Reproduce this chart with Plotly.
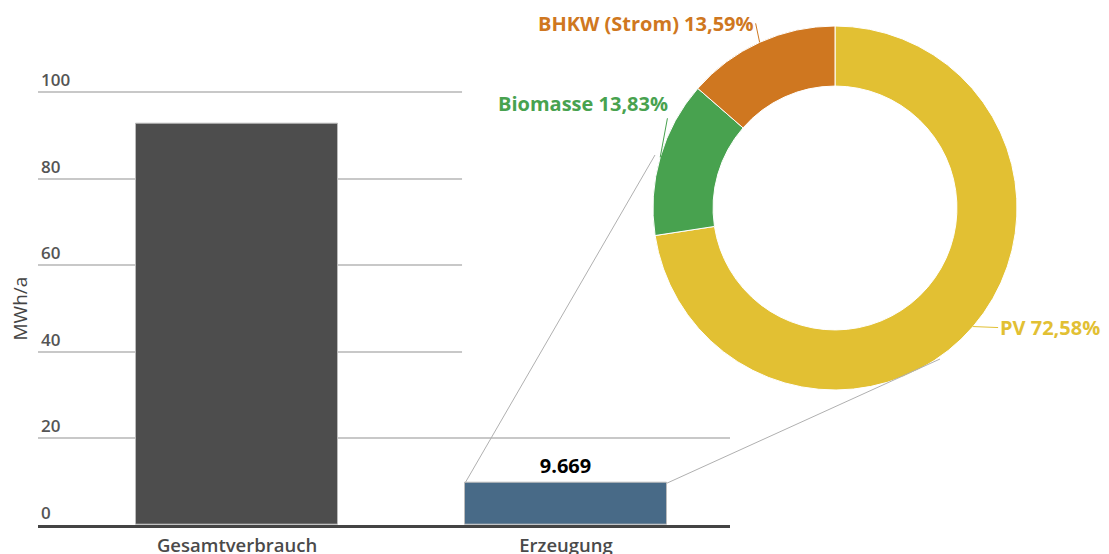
"""Gesamtverbrauch vs. Erzeugung with a donut breakdown of the generation."""

import math

import plotly.graph_objects as go

# bar chart data (MWh/a)
bar_categories = ["Gesamtverbrauch", "Erzeugung"]
bar_values = [92.6, 9.669]
bar_colors = ["#4d4d4d", "#486a87"]

# generation breakdown (MWh/a)
gen_labels = ["PV", "Biomasse", "BHKW (Strom)"]
gen_values = [7.018, 1.337, 1.314]
gen_colors = ["#e2c033", "#48a24f", "#cf7720"]

y_ticks = [0, 20, 40, 60, 80, 100]
y_title = "MWh/a"

FONT = "Open Sans"
# the page body has an 8px margin, so the figure is 8px smaller than the window
W, H = 1101, 546
M_L, M_R, M_T, M_B = 30, 0, 0, 29
plot_w = W - M_L - M_R
plot_h = H - M_T - M_B
plot_bottom = H - M_B

# bar subplot geometry (figure pixels)
y_zero_px, y_100_px = 517, 84
px_per_unit = (y_zero_px - y_100_px) / 100
y_top = 110
x_range = [-0.605, 1.4985]
x_dom = [0, (722 - M_L) / plot_w]
y_dom = [0, (plot_bottom - (y_zero_px - y_top * px_per_unit)) / plot_h]
bar_width = 0.614

# donut geometry (figure pixels)
pie_cx, pie_cy, pie_r = 827, 200, 182


def px_to_paper(px, py):
    return (px - M_L) / plot_w, (plot_bottom - py) / plot_h


def x_to_paper(x):
    return x_dom[0] + (x - x_range[0]) / (x_range[1] - x_range[0]) * (x_dom[1] - x_dom[0])


def y_to_paper(y):
    return y_dom[0] + y / y_top * (y_dom[1] - y_dom[0])


pie_x0, pie_y0 = px_to_paper(pie_cx - pie_r, pie_cy + pie_r)
pie_x1, pie_y1 = px_to_paper(pie_cx + pie_r, pie_cy - pie_r)

fig = go.Figure()

fig.add_trace(
    go.Bar(
        x=bar_categories,
        y=bar_values,
        width=bar_width,
        marker=dict(color=bar_colors, line=dict(color="#bbbbbb", width=1)),
        text=[None, f"{bar_values[1]:.3f}"],
        textposition="outside",
        textfont=dict(family=FONT, size=20, color="#000000", weight="bold"),
        cliponaxis=False,
        showlegend=False,
    )
)

fig.add_trace(
    go.Pie(
        labels=gen_labels,
        values=gen_values,
        hole=0.67,
        sort=False,
        direction="clockwise",
        rotation=0,
        domain=dict(x=[pie_x0, pie_x1], y=[pie_y0, pie_y1]),
        marker=dict(colors=gen_colors, line=dict(color="#ffffff", width=1)),
        textinfo="none",
        showlegend=False,
    )
)

# slice labels with short connectors to the slice middles
total = sum(gen_values)
label_offsets = [(25, 1, "left"), (10, -54, "right"), (-4, -19, "right")]
start = 0.0
for label, value, color, (ax, ay, anchor) in zip(gen_labels, gen_values, gen_colors, label_offsets):
    share = value / total
    mid = (start + share / 2) * 2 * math.pi
    start += share
    tip_x, tip_y = px_to_paper(pie_cx + pie_r * math.sin(mid), pie_cy - pie_r * math.cos(mid))
    pct = f"{share * 100:.2f}".replace(".", ",")
    fig.add_annotation(
        x=tip_x, y=tip_y, xref="paper", yref="paper",
        text=f"{label} {pct}%",
        showarrow=True, arrowhead=0, arrowwidth=1, arrowcolor=color,
        ax=ax, ay=ay, xanchor=anchor, yanchor="middle",
        font=dict(family=FONT, size=20, color=color, weight="bold"),
    )

# y axis title, centred on the 0..100 span
fig.add_annotation(
    x=(11 - M_L) / plot_w, y=y_to_paper(50), xref="paper", yref="paper",
    text=y_title, textangle=-90, showarrow=False,
    xanchor="center", yanchor="middle",
    font=dict(family=FONT, size=19, color="#444444"),
)

# hide the upper gridlines behind the donut area
fig.add_shape(
    type="rect", xref="x", yref="y", layer="between",
    x0=0.684, x1=x_range[1] + 0.1, y0=30, y1=y_top + 5,
    fillcolor="#ffffff", line=dict(width=0),
)

# connector lines from the Erzeugung bar to the donut
bar_left = x_to_paper(1 - bar_width / 2)
bar_right = x_to_paper(1 + bar_width / 2)
bar_top = y_to_paper(bar_values[1])
for bx, (ex, ey) in [(bar_left, px_to_paper(647, 147)), (bar_right, px_to_paper(932, 351))]:
    fig.add_shape(
        type="line", xref="paper", yref="paper", layer="above",
        x0=bx, y0=bar_top, x1=ex, y1=ey,
        line=dict(color="#b0b0b0", width=1),
    )

fig.update_layout(
    width=W,
    height=H,
    margin=dict(l=M_L, r=M_R, t=M_T, b=M_B),
    paper_bgcolor="#ffffff",
    plot_bgcolor="rgba(0,0,0,0)",
    font=dict(family=FONT, color="#444444"),
    bargap=0,
    xaxis=dict(
        domain=x_dom,
        type="category",
        range=x_range,
        automargin=False,
        showgrid=False,
        showline=True,
        linecolor="#444444",
        linewidth=3,
        ticks="",
        ticklabelstandoff=2,
        tickfont=dict(family=FONT, size=18.5, color="#4a4a4a", weight=600),
        fixedrange=True,
    ),
    yaxis=dict(
        domain=y_dom,
        range=[0, y_top],
        automargin=False,
        tickvals=y_ticks,
        ticklabelposition="inside top",
        tickfont=dict(family=FONT, size=17, color="#555555", weight=600),
        gridcolor="#c8c8c8",
        gridwidth=1.5,
        zeroline=False,
        showline=False,
    ),
)

fig.write_html("out.html")
